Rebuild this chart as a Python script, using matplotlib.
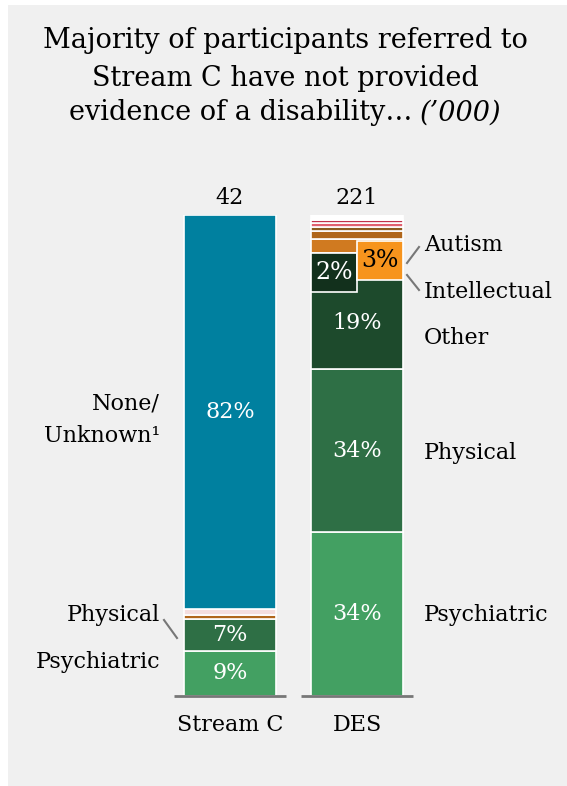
import matplotlib.pyplot as plt
from matplotlib.patches import Rectangle

plt.rcParams['font.family'] = ['DejaVu Serif']

# data (percent of each bar, bottom to top)
streamc_cats = ["Psychiatric", "Physical", "Other", "Intellectual", "None/Unknown"]
streamc_vals = [9.4, 6.6, 0.9, 1.2, 81.9]
streamc_cols = ["#43a062", "#2e6f45", "#b0661a", "#f4dede", "#00809f"]

des_cats = ["Psychiatric", "Physical", "Other", "Intellectual", "Autism",
            "Sensory", "Neurological", "Acquired brain", "Speech", "Deafblind", "Blank"]
des_vals = [34.0, 34.0, 19.0, 2.0, 3.0, 3.0, 1.6, 0.9, 0.8, 0.7, 1.0]
des_cols = ["#43a062", "#2e6f45", "#1d4a2c", "#12301c", "#f7941d",
            "#d07a20", "#b0661a", "#8b5a20", "#e06070", "#c0304a", "#ffffff"]

totals = ["42", "221"]
bar_names = ["Stream C", "DES"]

W, H = 567, 786
fig = plt.figure(figsize=(W / 100, H / 100), dpi=100)
fig.patch.set_facecolor("white")
bg = fig.add_axes([8 / W, 0, 1 - 8 / W, (H - 5) / H])
bg.set_facecolor("#f0f0f0")
bg.set_xticks([])
bg.set_yticks([])
for s in bg.spines.values():
    s.set_visible(False)

y0, y1 = 696, 215
ax = fig.add_axes([0, (H - y0) / H, 1, (y0 - y1) / H])
ax.set_xlim(0, W)
ax.set_ylim(0, 100)
ax.axis("off")


def yp(pix):
    # pixel row -> axis units, for label placement
    return (y0 - pix) / (y0 - y1) * 100


centers = [230, 357]
width = 92


def stack(x, vals, cols):
    bottom = 0
    mids = []
    for v, c in zip(vals, cols):
        ax.bar(x, v, width, bottom=bottom, color=c, edgecolor="white", linewidth=1.2)
        mids.append(bottom + v / 2)
        bottom += v
    return mids


sc_mid = stack(centers[0], streamc_vals, streamc_cols)
des_mid = stack(centers[1], des_vals, des_cols)

fs = 16
lab = dict(color="white", ha="center", va="center", fontsize=fs)
for i in (0, 1, 4):
    ax.text(centers[0], sc_mid[i], f"{streamc_vals[i]:.0f}%", **lab)
for i in range(3):
    ax.text(centers[1], des_mid[i], f"{des_vals[i]:.0f}%", **lab)

# callout boxes for the thin DES segments
bh = 8.0
ax.add_patch(Rectangle((centers[1] - width / 2, des_mid[3] - bh / 2), width / 2, bh,
                       facecolor=des_cols[3], edgecolor="white", linewidth=1.2, zorder=3))
ax.text(centers[1] - width / 4, des_mid[3], f"{des_vals[3]:.0f}%", color="white",
        ha="center", va="center", fontsize=fs + 1, zorder=4)
ax.add_patch(Rectangle((centers[1], des_mid[4] - bh / 2), width / 2, bh,
                       facecolor=des_cols[4], edgecolor="white", linewidth=1.2, zorder=3))
ax.text(centers[1] + width / 4, des_mid[4], f"{des_vals[4]:.0f}%", color="black",
        ha="center", va="center", fontsize=fs + 1, zorder=4)

# baselines
for x in centers:
    ax.plot([x - width / 2 - 10, x + width / 2 + 10], [0, 0], color="#777777", lw=2,
            clip_on=False, solid_capstyle="butt")

# totals and bar names
for x, t, n in zip(centers, totals, bar_names):
    ax.text(x, yp(198), t, ha="center", va="center", fontsize=fs, clip_on=False)
    ax.text(x, yp(725), n, ha="center", va="center", fontsize=fs, clip_on=False)

# left labels
lx = 160
ax.text(lx, yp(420), "None/\nUnknown\u00b9", ha="right", va="center", fontsize=fs,
        linespacing=1.6)
ax.text(lx, yp(615), "Physical", ha="right", va="center", fontsize=fs)
ax.plot([164, 177], [yp(620), yp(638)], color="#777777", lw=1.5, clip_on=False)
ax.text(lx, yp(662), "Psychiatric", ha="right", va="center", fontsize=fs)

# right labels
rx = 424
ax.text(rx, yp(245), "Autism", ha="left", va="center", fontsize=fs)
ax.plot([407, 419], [yp(263), yp(247)], color="#777777", lw=1.5)
ax.text(rx, yp(292), "Intellectual", ha="left", va="center", fontsize=fs)
ax.plot([407, 419], [yp(275), yp(290)], color="#777777", lw=1.5)
ax.text(rx, yp(338), "Other", ha="left", va="center", fontsize=fs)
ax.text(rx, yp(453), "Physical", ha="left", va="center", fontsize=fs)
ax.text(rx, yp(615), "Psychiatric", ha="left", va="center", fontsize=fs)

# title
tfs = 19.5
fig.text(285 / W, 1 - 41 / H, "Majority of participants referred to", ha="center",
         va="center", fontsize=tfs)
fig.text(285 / W, 1 - 78 / H, "Stream C have not provided", ha="center",
         va="center", fontsize=tfs)
fig.text(412 / W, 1 - 113 / H, "evidence of a disability\u2026", ha="right",
         va="center", fontsize=tfs)
fig.text(420 / W, 1 - 113 / H, "(\u2019000)", ha="left", va="center", fontsize=tfs,
         style="italic")

fig.savefig("out.png", dpi=100)
